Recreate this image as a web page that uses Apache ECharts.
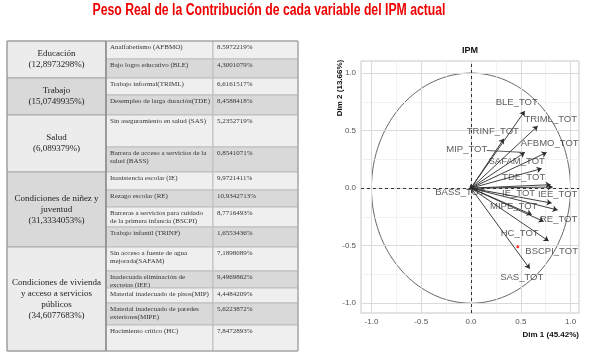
<!DOCTYPE html>
<html><head><meta charset="utf-8">
<script src="https://cdn.jsdelivr.net/npm/echarts@6/dist/echarts.min.js"></script>
<style>html,body{margin:0;padding:0;background:#fff}#c{width:589px;height:359px}</style>
</head><body><div id="c"></div>
<script>
// ---------- DATA ----------
var titleText = 'Peso Real de la Contribución de cada variable del IPM actual';
var groupNames = ['Educación\n(12,8973298%)', 'Trabajo\n(15,0749935%)', 'Salud\n(6,089379%)',
  'Condiciones de niñez y\njuventud\n(31,3334053%)',
  'Condiciones de vivienda\ny acceso a servicios\npúblicos\n(34,6077683%)'];
var groupSizes = [2, 2, 2, 4, 5];
var subLabels = ['Analfabetismo (AFBMO)', 'Bajo logro educativo (BLE)', 'Trabajo informal(TRIML)',
  'Desempleo de larga duración(TDE)', 'Sin aseguramiento en salud (SAS)',
  'Barrera de acceso a servicios de la\nsalud (BASS)', 'Inasistencia escolar (IE)', 'Rezago escolar (RE)',
  'Barreras a servicios para cuidado\nde la primera infancia (BSCPI)', 'Trabajo infantil (TRINF)',
  'Sin acceso a fuente de agua\nmejorada(SAFAM)', 'Inadecuada eliminación de\nexcretas (IEE)',
  'Material inadecuado de pisos(MIP)', 'Material inadecuado de paredes\nexteriores(MIPE)',
  'Hacimiento crítico (HC)'];
var subValues = ['8.5972219%', '4,3001079%', '6,6161517%', '8,4588418%', '5,2352719%', '0,8541071%',
  '9,9721411%', '10,9342713%', '8,7716493%', '1,6553436%', '7,1898089%', '9,4969862%',
  '4,4484209%', '5,6223872%', '7,8472893%'];

var varNames = ['BLE_TOT', 'TRIML_TOT', 'TRINF_TOT', 'MIP_TOT', 'AFBMO_TOT', 'SAFAM_TOT', 'TDE_TOT',
  'IE_TOT', 'IEE_TOT', 'RE_TOT', 'MIPE_TOT', 'HC_TOT', 'BSCPI_TOT', 'SAS_TOT', 'BASS_TOT'];
var dim1 = [0.54, 0.67, 0.33, 0.54, 0.76, 0.71, 0.80, 0.82, 0.81, 0.87, 0.61, 0.73, 0.78, 0.59, 0.02];
var dim2 = [0.67, 0.54, 0.43, 0.31, 0.31, 0.17, 0.03, 0.01, -0.13, -0.19, -0.23, -0.29, -0.46, -0.70, -0.01];
var suppPoint = [0.47, -0.51];
var tickValues = [-1.0, -0.5, 0.0, 0.5, 1.0];
var minorValues = [-0.75, -0.25, 0.25, 0.75];
var plotTitle = 'IPM';
var xTitle = 'Dim 1 (45.42%)';
var yTitle = 'Dim 2 (13.66%)';

// ---------- STYLE / LAYOUT ----------
var labelOffsets = [[-8,-9],[13,-7],[-11,-7],[-58,-3],[3,-9],[-25,-7],[-27,-7],[-34,6],[6,-9],[1,9],[-18,-8],[-24,12],[3,10],[-8,9],[-13,3]];
var colX = [7, 106, 213, 298];
var rowY = [41, 59, 78, 95, 115, 147, 172, 190, 207, 227, 247, 271, 288, 303, 325, 351];
var LIGHT = '#efefef', DARK = '#d9d9d9';
var serif = '"Liberation Serif","DejaVu Serif",serif';
var sans = '"Liberation Sans",Arial,sans-serif';

var graphics = [];
graphics.push({type:'text', x:269, y:11, scaleX:0.765, scaleY:1.0, style:{x:0, y:0, text:titleText, fill:'#ee0000',
  font:'bold 16px "Liberation Sans",sans-serif', textAlign:'center', textVerticalAlign:'middle'}});
// table
var r = 0;
for (var g = 0; g < groupSizes.length; g++) {
  var y0 = rowY[r], y1 = rowY[r + groupSizes[g]];
  graphics.push({type:'rect', shape:{x:colX[0], y:y0, width:colX[1]-colX[0], height:y1-y0},
    style:{fill: g % 2 === 0 ? '#ececec' : DARK, stroke:'#a8a8a8', lineWidth:1}});
  graphics.push({type:'text', style:{x:(colX[0]+colX[1])/2, y:(y0+y1)/2, text:groupNames[g], fill:'#222',
    font:'9px ' + serif, textAlign:'center', textVerticalAlign:'middle', lineHeight:11}});
  for (var k = 0; k < groupSizes[g]; k++) {
    var ry0 = rowY[r], ry1 = rowY[r+1];
    var fill = (r % 2 === 0) ? LIGHT : DARK;
    graphics.push({type:'rect', shape:{x:colX[1], y:ry0, width:colX[2]-colX[1], height:ry1-ry0},
      style:{fill:fill, stroke:'#bdbdbd', lineWidth:1}});
    graphics.push({type:'rect', shape:{x:colX[2], y:ry0, width:colX[3]-colX[2], height:ry1-ry0},
      style:{fill:fill, stroke:'#bdbdbd', lineWidth:1}});
    graphics.push({type:'text', style:{x:colX[1]+4, y:ry0+2, text:subLabels[r], fill:'#333',
      font:'7px ' + serif, textAlign:'left', textVerticalAlign:'top', lineHeight:8}});
    graphics.push({type:'text', style:{x:colX[2]+4, y:ry0+2.5, text:subValues[r], fill:'#333',
      font:'7px ' + serif, textAlign:'left', textVerticalAlign:'top'}});
    r++;
  }
}
graphics.push({type:'line', shape:{x1:colX[1], y1:rowY[0], x2:colX[1], y2:rowY[rowY.length-1]}, style:{stroke:'#7a7a7a', lineWidth:1.2}});
graphics.push({type:'rect', shape:{x:colX[0], y:rowY[0], width:colX[3]-colX[0], height:rowY[rowY.length-1]-rowY[0]}, style:{fill:null, stroke:'#9a9a9a', lineWidth:1}});
// plot texts
graphics.push({type:'text', style:{x:470, y:51, text:plotTitle, fill:'#111', font:'bold 9px ' + sans, textAlign:'center', textVerticalAlign:'middle'}});
graphics.push({type:'text', rotation:Math.PI/2, x:340, y:88, style:{x:0, y:0, text:yTitle, fill:'#111', font:'bold 8px ' + sans, textAlign:'center', textVerticalAlign:'middle'}});
graphics.push({type:'text', style:{x:579, y:335, text:xTitle, fill:'#111', font:'bold 8px ' + sans, textAlign:'right', textVerticalAlign:'middle'}});

// circle (unit correlation circle geometry)
var circle = [];
for (var a = 0; a <= 360; a += 2) circle.push([Math.cos(a*Math.PI/180), Math.sin(a*Math.PI/180)]);

var arrows = varNames.map(function(n, i){ return {coords:[[0,0],[dim1[i], dim2[i]]]}; });
var tips = varNames.map(function(n, i){ return {value:[dim1[i], dim2[i]], name:n,
  label:{show:true, formatter:n, position:'inside', offset:labelOffsets[i]}}; });

function gridLines(vals, axis, color, w) {
  return vals.map(function(v){ var o = {}; o[axis] = v; o.lineStyle = {color:color, width:w, type:'solid'}; return o; });
}

var chart = echarts.init(document.getElementById('c'), null, {renderer:'canvas'});
chart.setOption({
  animation:false,
  backgroundColor:'#fff',
  graphic: graphics,
  grid:{left:361, top:61, width:218, height:252, show:true, borderColor:'#c8c8c8', borderWidth:1, backgroundColor:'#fff'},
  xAxis:{type:'value', min:-1.105, max:1.085, splitLine:{show:false}, axisLine:{show:false},
    axisTick:{show:true, customValues:tickValues, length:2, lineStyle:{color:'#555'}},
    axisLabel:{customValues:tickValues, color:'#555', fontSize:8, fontFamily:sans, margin:5,
      formatter:function(v){return v.toFixed(1);}}},
  yAxis:{type:'value', min:-1.085, max:1.105, splitLine:{show:false}, axisLine:{show:false},
    axisTick:{show:true, customValues:tickValues, length:2, lineStyle:{color:'#555'}},
    axisLabel:{customValues:tickValues, color:'#555', fontSize:8, fontFamily:sans, margin:5,
      formatter:function(v){return v.toFixed(1);}}},
  series:[
    {type:'line', data:[], silent:true, markLine:{symbol:'none', silent:true, label:{show:false},
      data: gridLines(minorValues,'xAxis','#ececec',0.7).concat(gridLines(minorValues,'yAxis','#ececec',0.7))
        .concat(gridLines(tickValues,'xAxis','#dadada',1)).concat(gridLines(tickValues,'yAxis','#dadada',1))}},
    {type:'line', data:circle, showSymbol:false, smooth:false, lineStyle:{color:'#555', width:0.9}, silent:true, z:3},
    {type:'line', data:[], silent:true, z:4, markLine:{symbol:'none', silent:true, label:{show:false},
      data:[{xAxis:0, lineStyle:{color:'#222', type:[3,3], width:0.9}}, {yAxis:0, lineStyle:{color:'#222', type:[3,3], width:0.9}}]}},
    {type:'lines', coordinateSystem:'cartesian2d', data:arrows, symbol:['none','arrow'], symbolSize:5,
      lineStyle:{color:'#2a2a2a', width:0.9, opacity:1}, z:5, silent:true},
    {type:'scatter', data:tips, symbolSize:0, z:6, silent:true,
      label:{color:'#333', fontSize:9.5, fontFamily:sans}},
    {type:'scatter', data:[suppPoint], symbolSize:3, itemStyle:{color:'#ff0000'}, z:7, silent:true}
  ]
});
// repel segment for MIP label
var mipIdx = varNames.indexOf('MIP_TOT');
var tip = chart.convertToPixel({gridIndex:0}, [dim1[mipIdx], dim2[mipIdx]]);
chart.setOption({graphic: graphics.concat([{type:'line', shape:{x1:tip[0]+labelOffsets[mipIdx][0]+20, y1:tip[1]+labelOffsets[mipIdx][1]+1, x2:tip[0], y2:tip[1]}, style:{stroke:'#333', lineWidth:0.8}}])}, {replaceMerge:['graphic']});
</script></body></html>
